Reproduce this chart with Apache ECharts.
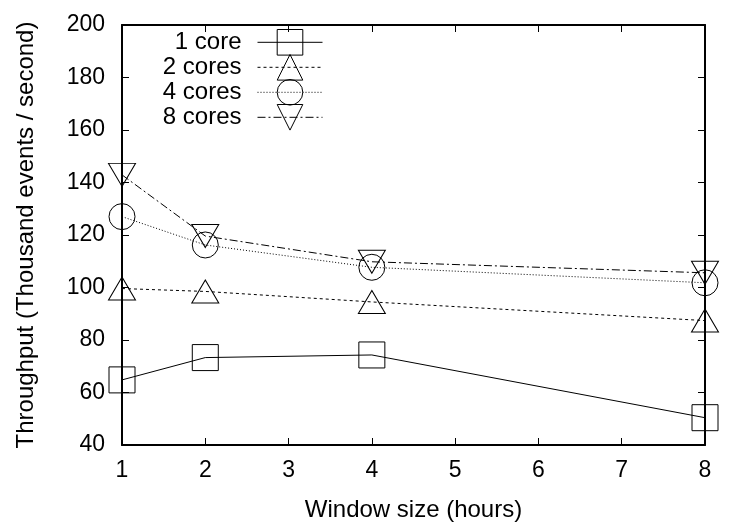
<!DOCTYPE html>
<html>
<head>
<meta charset="utf-8">
<script src="https://cdn.jsdelivr.net/npm/echarts@6/dist/echarts.min.js"></script>
<style>
  html, body { margin: 0; padding: 0; background: #fff; }
  #chart { width: 750px; height: 525px; }
</style>
</head>
<body>
<div id="chart"></div>
<script>
// window sizes (hours)
const windowSizes = [1, 2, 4, 8];

// throughput, thousand events / second
const oneCore = [64.8, 73.3, 74.3, 50.4];
const twoCores = [99.6, 98.5, 94.5, 87.4];
const fourCores = [127, 116.2, 107.7, 101.8];
const eightCores = [142.9, 119.6, 109.8, 105.6];

const seriesNames = ['1 core', '2 cores', '4 cores', '8 cores'];

const font = '"Liberation Sans", Arial, sans-serif';

const chart = echarts.init(document.getElementById('chart'), null, { renderer: 'canvas' });

const pairs = (vals) => windowSizes.map((x, i) => [x, vals[i]]);

const styles = [
  { data: oneCore, symbol: 'rect', rotate: 0, size: 26, dash: 'solid' },
  { data: twoCores, symbol: 'triangle', rotate: 0, size: [27, 23], dash: [3, 3] },
  { data: fourCores, symbol: 'circle', rotate: 0, size: 26, dash: [1, 2] },
  { data: eightCores, symbol: 'triangle', rotate: 180, size: [27, 23], dash: [8, 3, 2, 3] },
];

const legendRows = [45, 70, 95, 120];

const axisLine = { show: true, lineStyle: { color: '#000', width: 2 } };
const axisTick = { show: true, inside: true, length: 7, lineStyle: { color: '#000', width: 1 } };

const option = {
  backgroundColor: '#fff',
  animation: false,
  grid: { left: 122, right: 45, top: 25, bottom: 80, outerBoundsMode: 'none' },
  // one legend per row so the labels end up right-aligned like gnuplot's key
  legend: seriesNames.map((name, i) => ({
    data: [name],
    right: 427,
    top: legendRows[i] - 16,
    padding: 0,
    align: 'right',
    itemWidth: 65,
    itemHeight: 32,
    selectedMode: false,
    lineStyle: { width: 1 },
    itemStyle: { borderWidth: 1 },
    textStyle: { fontFamily: font, fontSize: 24, color: '#000', padding: [0, 11, 0, 0] },
  })),
  xAxis: [
    {
      type: 'value',
      min: 1,
      max: 8,
      interval: 1,
      name: 'Window size (hours)',
      nameLocation: 'middle',
      nameGap: 53,
      nameTextStyle: { fontFamily: font, fontSize: 24, color: '#000' },
      axisLine: axisLine,
      axisTick: axisTick,
      axisLabel: { fontFamily: font, fontSize: 23, color: '#000', margin: 14 },
      splitLine: { show: false },
    },
    {
      type: 'value',
      position: 'top',
      min: 1,
      max: 8,
      interval: 1,
      axisLine: axisLine,
      axisTick: axisTick,
      axisLabel: { show: false },
      splitLine: { show: false },
    },
  ],
  yAxis: [
    {
      type: 'value',
      min: 40,
      max: 200,
      interval: 20,
      name: 'Throughput (Thousand events / second)',
      nameLocation: 'middle',
      nameGap: 84,
      nameTextStyle: { fontFamily: font, fontSize: 24, color: '#000' },
      axisLine: axisLine,
      axisTick: axisTick,
      axisLabel: { fontFamily: font, fontSize: 23, color: '#000', margin: 17 },
      splitLine: { show: false },
    },
    {
      type: 'value',
      position: 'right',
      min: 40,
      max: 200,
      interval: 20,
      axisLine: axisLine,
      axisTick: axisTick,
      axisLabel: { show: false },
      splitLine: { show: false },
    },
  ],
  series: styles.map((s, i) => ({
    name: seriesNames[i],
    type: 'line',
    xAxisIndex: 0,
    yAxisIndex: 0,
    data: pairs(s.data),
    symbol: s.symbol,
    symbolRotate: s.rotate,
    symbolSize: s.size,
    showAllSymbol: true,
    clip: false,
    lineStyle: { color: '#000', width: 1, type: s.dash },
    itemStyle: { color: 'rgba(0,0,0,0)', borderColor: '#000', borderWidth: 1 },
    emphasis: { disabled: true },
  })),
};

chart.setOption(option);
</script>
</body>
</html>
